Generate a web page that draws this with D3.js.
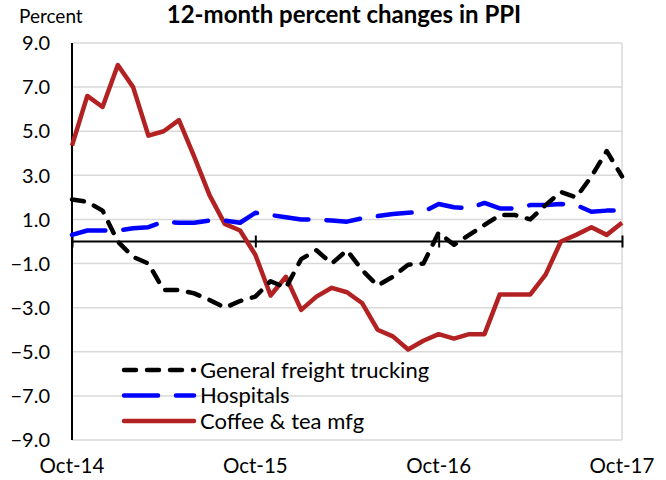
<!DOCTYPE html>
<html>
<head>
<meta charset="utf-8">
<script src="https://cdn.jsdelivr.net/npm/d3@7"></script>
<style>
  body { margin: 0; background: #fff; }
  text { font-family: Lato, "Open Sans", sans-serif; fill: #000; }
</style>
</head>
<body>
<div id="chart"></div>
<script>
// months Oct-14 .. Oct-17 (index 0..36)
const tickLabels = ["Oct-14", "Oct-15", "Oct-16", "Oct-17"];
const yTicks = [9, 7, 5, 3, 1, -1, -3, -5, -7, -9];

const trucking = [1.9, 1.8, 1.4, 0.0, -0.7, -1.0, -2.2, -2.2, -2.35, -2.65, -3.0, -2.7,
  -2.5, -1.8, -2.1, -0.8, -0.4, -1.0, -0.4, -1.3, -2.0, -1.6, -1.05, -1.0,
  0.4, -0.15, 0.3, 0.75, 1.2, 1.2, 1.0, 1.65, 2.25, 2.0, 2.95, 4.1, 2.95];
const hospitals = [0.3, 0.5, 0.5, 0.5, 0.6, 0.65, 0.9, 0.85, 0.85, 0.95, 0.95, 0.85,
  1.3, 1.2, 1.1, 1.0, 1.0, 0.95, 0.9, 1.05, 1.15, 1.25, 1.3, 1.35,
  1.7, 1.55, 1.5, 1.75, 1.5, 1.5, 1.65, 1.65, 1.7, 1.65, 1.35, 1.4, 1.4];
const coffee = [4.35, 6.6, 6.1, 8.0, 7.0, 4.8, 5.0, 5.5, 3.85, 2.1, 0.8, 0.5,
  -0.6, -2.45, -1.6, -3.1, -2.5, -2.1, -2.3, -2.8, -4.0, -4.3, -4.9, -4.5,
  -4.2, -4.4, -4.2, -4.2, -2.4, -2.4, -2.4, -1.5, 0.0, 0.3, 0.65, 0.3, 0.85];

const series = [
  { name: "General freight trucking", values: trucking, color: "#000000", dash: "12,11" },
  { name: "Hospitals", values: hospitals, color: "#0000ff", dash: "34,18" },
  { name: "Coffee & tea mfg", values: coffee, color: "#b22222", dash: null }
];

const W = 666, H = 480;
const margin = { top: 43, right: 44, bottom: 40, left: 72 };
const width = W - margin.left - margin.right;
const height = H - margin.top - margin.bottom;

const svg = d3.select("#chart").append("svg")
  .attr("width", W).attr("height", H);
const g = svg.append("g")
  .attr("transform", `translate(${margin.left},${margin.top})`);

const x = d3.scaleLinear().domain([0, 36]).range([0, width]);
const y = d3.scaleLinear().domain([-9, 9]).range([height, 0]);

// gridlines
g.selectAll(".grid").data(yTicks).join("line")
  .attr("x1", 0).attr("x2", width)
  .attr("y1", d => y(d)).attr("y2", d => y(d))
  .attr("stroke", "#d9d9d9").attr("stroke-width", 1.5);
// right border
g.append("line").attr("x1", width).attr("x2", width).attr("y1", 0).attr("y2", height)
  .attr("stroke", "#d9d9d9").attr("stroke-width", 1.5);

// y labels
g.selectAll(".ylab").data(yTicks).join("text")
  .attr("x", -22).attr("y", d => y(d)).attr("dy", "0.36em")
  .attr("text-anchor", "end").style("font-size", "20px")
  .text(d => d3.format(".1f")(d));

// left axis
g.append("line").attr("x1", 0).attr("x2", 0).attr("y1", 0).attr("y2", height)
  .attr("stroke", "#000").attr("stroke-width", 2);

// zero axis with ticks
const xAxis = d3.axisBottom(x).tickValues([0, 12, 24, 36]).tickSize(12).tickFormat("");
const zeroAxis = g.append("g").attr("transform", `translate(0,${y(0) - 6})`).call(xAxis);
zeroAxis.select(".domain").remove();
zeroAxis.selectAll(".tick line").attr("stroke", "#000").attr("stroke-width", 2);
g.append("line").attr("x1", 0).attr("x2", width).attr("y1", y(0)).attr("y2", y(0))
  .attr("stroke", "#000").attr("stroke-width", 2);

// x labels
g.selectAll(".xlab").data(tickLabels).join("text")
  .attr("x", (d, i) => x(i * 12)).attr("y", height + 33)
  .attr("text-anchor", "middle").style("font-size", "20.5px")
  .text(d => d);

// lines
const line = d3.line().x((d, i) => x(i)).y(d => y(d));
series.slice().reverse().forEach(s => {
  g.append("path").datum(s.values)
    .attr("d", line)
    .attr("fill", "none")
    .attr("stroke", s.color)
    .attr("stroke-width", 4.5)
    .attr("stroke-linecap", s.dash ? "round" : "butt")
    .attr("stroke-linejoin", "round")
    .attr("stroke-dasharray", s.dash);
});

// legend
series.forEach((s, i) => {
  const ly = 370 + i * 25.5;
  svg.append("line")
    .attr("x1", 124).attr("x2", 194).attr("y1", ly).attr("y2", ly)
    .attr("stroke", s.color).attr("stroke-width", 4.5)
    .attr("stroke-linecap", "round")
    .attr("stroke-dasharray", s.dash);
  svg.append("text")
    .attr("x", 200).attr("y", ly).attr("dy", "0.35em")
    .style("font-size", "22px")
    .text(s.name);
});

// title and unit
svg.append("text").attr("x", 344).attr("y", 23)
  .attr("text-anchor", "middle").style("font-size", "24px").style("font-weight", "bold")
  .text("12-month percent changes in PPI");
svg.append("text").attr("x", 19).attr("y", 23)
  .style("font-size", "19px")
  .text("Percent");
</script>
</body>
</html>
